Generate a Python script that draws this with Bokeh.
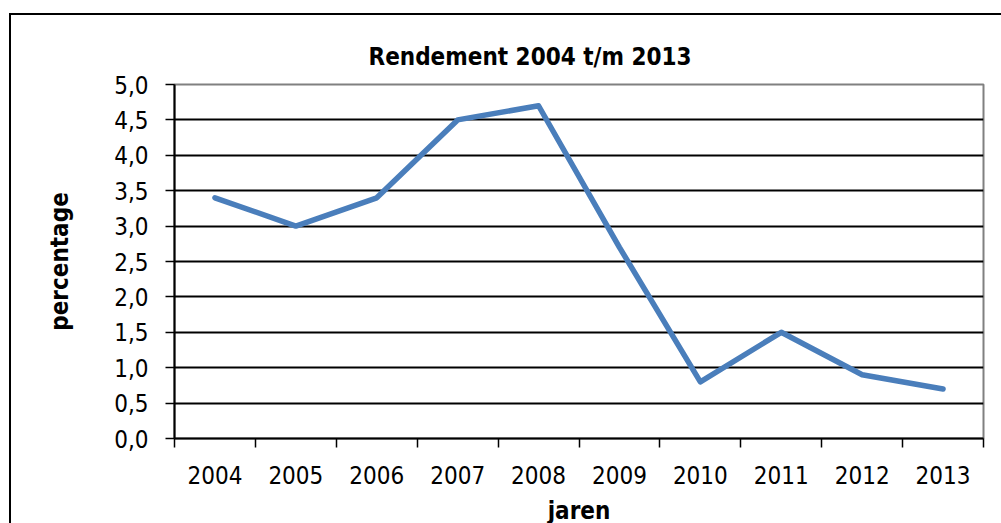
from bokeh.plotting import figure
from bokeh.models import FixedTicker, Range1d
from bokeh.layouts import column
from bokeh.embed import file_html
from bokeh.resources import INLINE

# ---- data ----
years = ["2004", "2005", "2006", "2007", "2008", "2009", "2010", "2011", "2012", "2013"]
rendement = [3.4, 3.0, 3.4, 4.5, 4.7, 2.7, 0.8, 1.5, 0.9, 0.7]
y_ticks = [0.0, 0.5, 1.0, 1.5, 2.0, 2.5, 3.0, 3.5, 4.0, 4.5, 5.0]
y_tick_labels = ["0,0", "0,5", "1,0", "1,5", "2,0", "2,5", "3,0", "3,5", "4,0", "4,5", "5,0"]
title_text = "Rendement 2004 t/m 2013"
x_label = "jaren"
y_label = "percentage"

FONT = "DejaVu Sans Condensed"

xs = list(range(len(years)))

p = figure(
    frame_width=809, frame_height=354,
    min_border_left=163, min_border_right=18, min_border_top=69, min_border_bottom=85,
    x_range=Range1d(-0.5, len(years) - 0.5), y_range=Range1d(0, 5),
    output_backend="svg", toolbar_location=None,
)

p.title.text = title_text
p.title.align = "left"
p.title.offset = 194
p.title.text_font = FONT
p.title.text_font_size = "24px"
p.title.text_font_style = "bold"
p.title.text_color = "black"
p.title.standoff = 28

p.line(xs, rendement, line_color="#4a7ebb", line_width=5.5, line_join="round", line_cap="round")

# x axis: labels at category centres, ticks at category boundaries
xa = p.xaxis[0]
xa.ticker = FixedTicker(ticks=xs, minor_ticks=[i - 0.5 for i in range(len(years) + 1)])
xa.major_label_overrides = {i: y for i, y in enumerate(years)}
xa.major_tick_in = 0
xa.major_tick_out = 0
xa.minor_tick_in = 0
xa.minor_tick_out = 9
xa.minor_tick_line_color = "black"
xa.minor_tick_line_width = 1.5
xa.axis_line_color = "black"
xa.axis_line_width = 2
xa.major_label_text_font = FONT
xa.major_label_text_font_size = "24px"
xa.major_label_text_color = "black"
xa.major_label_standoff = 18
xa.axis_label = x_label
xa.axis_label_text_font = FONT
xa.axis_label_text_font_size = "24px"
xa.axis_label_text_font_style = "bold"
xa.axis_label_text_color = "black"
xa.axis_label_standoff = 10

ya = p.yaxis[0]
ya.ticker = FixedTicker(ticks=y_ticks, minor_ticks=[])
ya.major_label_overrides = {t: l for t, l in zip(y_ticks, y_tick_labels)}
ya.major_tick_in = 0
ya.major_tick_out = 9
ya.major_tick_line_color = "black"
ya.major_tick_line_width = 1.5
ya.axis_line_color = "black"
ya.axis_line_width = 2
ya.major_label_text_font = FONT
ya.major_label_text_font_size = "24px"
ya.major_label_text_color = "black"
ya.major_label_standoff = 17
ya.axis_label = y_label
ya.axis_label_text_font = FONT
ya.axis_label_text_font_size = "24px"
ya.axis_label_text_font_style = "bold"
ya.axis_label_text_color = "black"
ya.axis_label_standoff = 37

p.xgrid.visible = False
p.ygrid.ticker = FixedTicker(ticks=y_ticks[1:-1])
p.ygrid.grid_line_color = "black"
p.ygrid.grid_line_width = 2
p.outline_line_color = "#808080"
p.outline_line_width = 2
p.background_fill_color = "white"
p.border_fill_color = "white"

layout = column(p, margin=(13, 0, 0, 9),
                styles={"border-left": "2px solid black", "border-top": "2px solid black"})

open("out.html", "w").write(file_html(layout, INLINE))
